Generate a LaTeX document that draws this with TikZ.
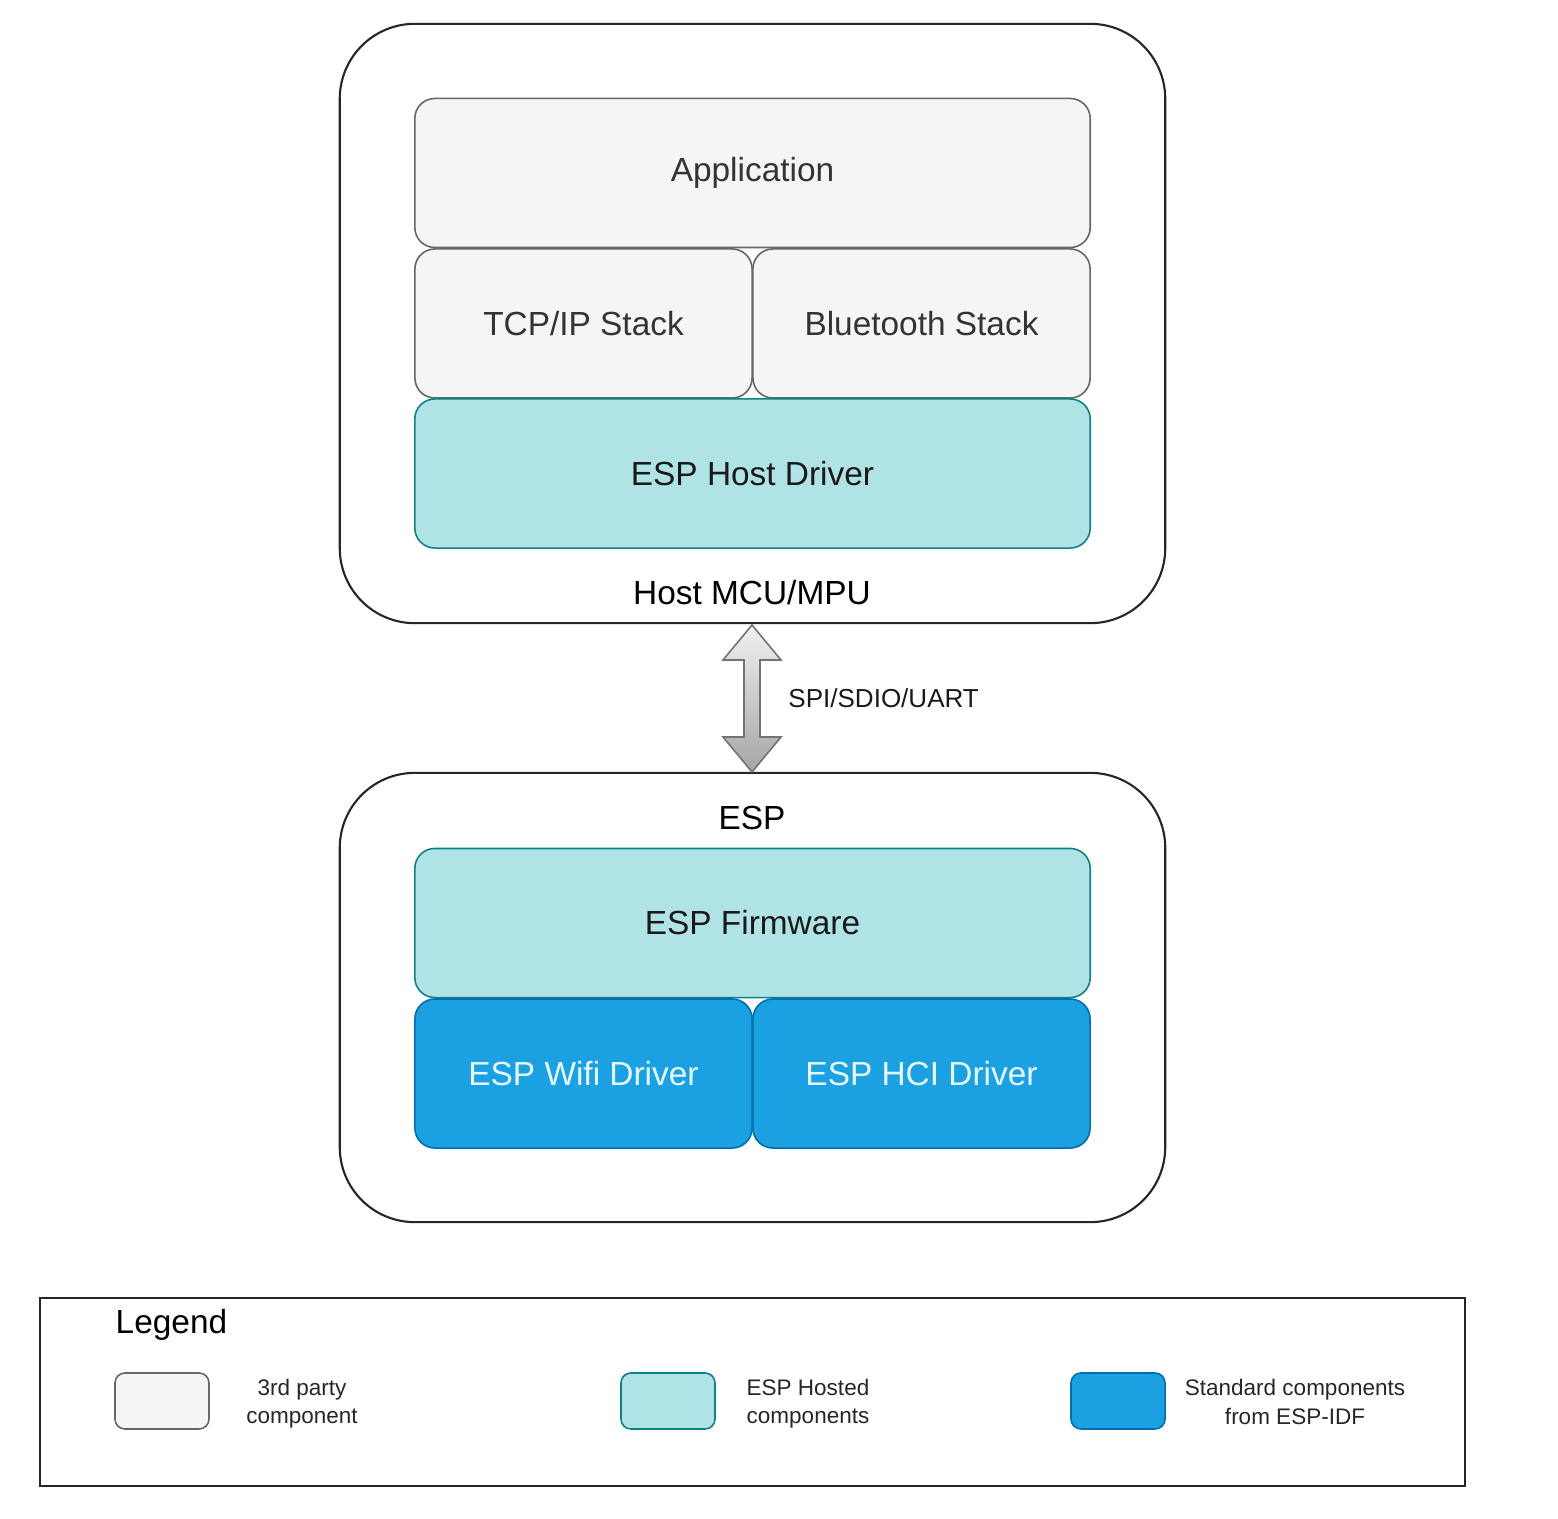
\documentclass[tikz,border=0pt]{standalone}
\usepackage{fontspec}
\setmainfont{Liberation Sans}
\usepackage{xcolor}
\usetikzlibrary{positioning}

\definecolor{tpfill}{HTML}{F5F5F5}
\definecolor{tpline}{HTML}{666666}
\definecolor{hstfill}{HTML}{B0E3E6}
\definecolor{hstline}{HTML}{0E8088}
\definecolor{idffill}{HTML}{1BA1E2}
\definecolor{idfline}{HTML}{006EAF}
\definecolor{idftext}{HTML}{E6F8FF}

\begin{document}
\begin{tikzpicture}[x=0.01cm,y=-0.01cm]

	\tikzstyle{chipbox} = [draw=black!85,line width=0.6pt,rounded corners=0.75cm,minimum width=8.25cm]
	\tikzstyle{layer} = [line width=0.45pt,rounded corners=0.2cm,minimum height=1.49cm,font=\fontsize{9.5}{11.4}\selectfont]
	\tikzstyle{tpbox} = [layer,draw=tpline,fill=tpfill,text=black!80]
	\tikzstyle{hstbox} = [layer,draw=hstline,fill=hstfill,text=black!90]
	\tikzstyle{idfbox} = [layer,draw=idfline,fill=idffill,text=idftext]
	\tikzstyle{swatch} = [line width=0.45pt,rounded corners=0.1cm,minimum width=0.94cm,minimum height=0.56cm]
	\tikzstyle{lgtext} = [align=center,font=\fontsize{6.4}{8}\selectfont,text=black!85]
	\tikzstyle{bigtext} = [font=\fontsize{9.5}{11.4}\selectfont]

	\useasboundingbox (0,0) rectangle (1558,1519);

	% host side
	\node[chipbox,minimum height=5.99cm] (host) at (752.5,323.5) {};
	\node[tpbox,minimum width=6.75cm] (app) at (752.5,173) {Application};
	\node[tpbox,minimum width=3.37cm] (tcp) at (583.5,323.5) {TCP/IP Stack};
	\node[tpbox,minimum width=3.37cm] (bt) at (921.5,323.5) {Bluetooth Stack};
	\node[hstbox,minimum width=6.75cm] (hostdrv) at (752.5,473.5) {ESP Host Driver};
	\node[bigtext] (hostlbl) at (752,593) {Host MCU/MPU};

	% ESP side
	\node[chipbox,minimum height=4.49cm] (esp) at (752.5,997.5) {};
	\node[bigtext] (esplbl) at (752,818) {ESP};
	\node[hstbox,minimum width=6.75cm] (fw) at (752.5,923) {ESP Firmware};
	\node[idfbox,minimum width=3.37cm] (wifi) at (583.5,1073.5) {ESP Wifi Driver};
	\node[idfbox,minimum width=3.37cm] (hci) at (921.5,1073.5) {ESP HCI Driver};

	% bus
	\draw[draw=black!55,line width=0.45pt,top color=black!6,bottom color=black!35]
		(752,625) -- (781,660) -- (760,660) -- (760,737) -- (781,737) -- (752,772)
		-- (723,737) -- (744,737) -- (744,660) -- (723,660) -- cycle;
	\node[anchor=west,font=\fontsize{7.4}{9}\selectfont,text=black!90] (bus) at (776,698) {SPI/SDIO/UART};

	% legend
	\node[draw=black!85,line width=0.6pt,minimum width=14.25cm,minimum height=1.88cm] (legend) at (752.5,1392) {};
	\node[bigtext,anchor=west,inner sep=0pt] (lgtitle) at (115,1325) {Legend};
	\node[swatch,draw=tpline,fill=tpfill] (sw1) at (162,1401) {};
	\node[lgtext] (lg1) at (302,1404) {3rd party\\component};
	\node[swatch,draw=hstline,fill=hstfill] (sw2) at (668,1401) {};
	\node[lgtext,align=left] (lg2) at (808,1404) {ESP Hosted\\components};
	\node[swatch,draw=idfline,fill=idffill] (sw3) at (1118,1401) {};
	\node[lgtext] (lg3) at (1295,1402) {Standard components\\from ESP-IDF};

\end{tikzpicture}
\end{document}
